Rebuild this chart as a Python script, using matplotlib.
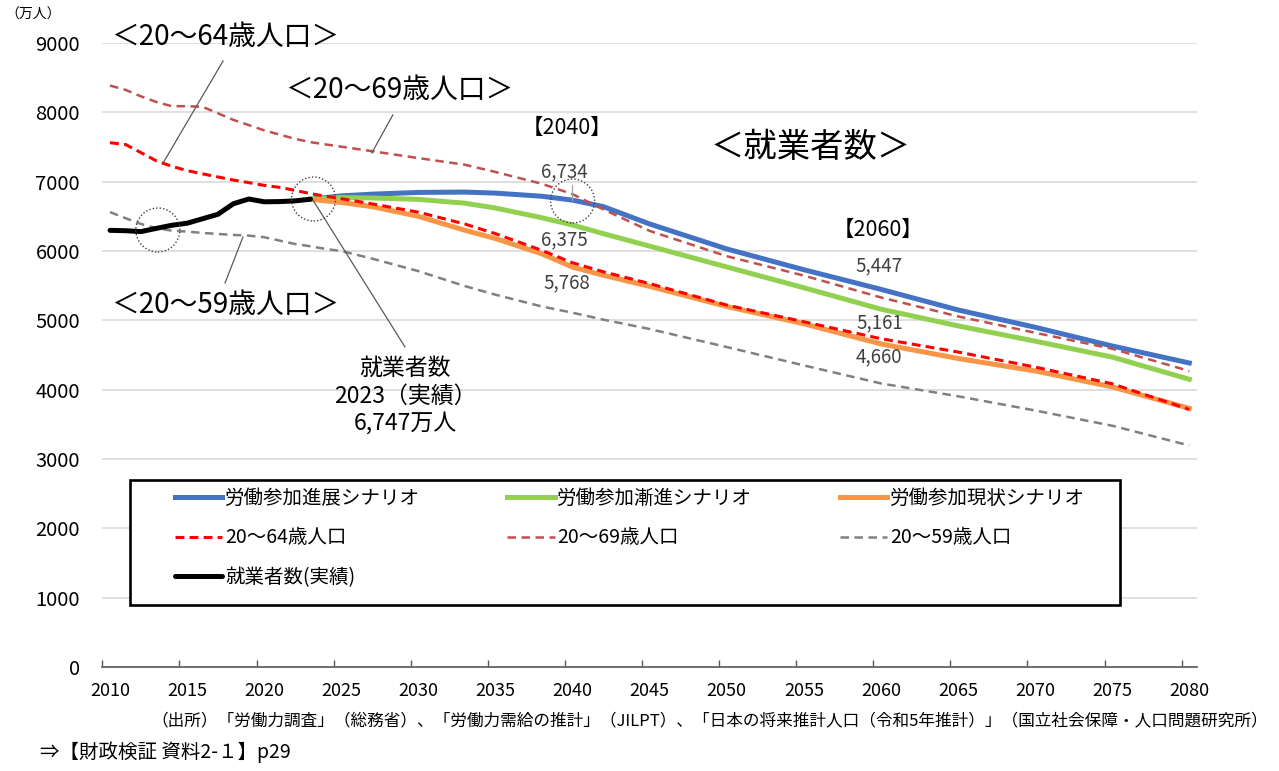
import matplotlib
matplotlib.use("Agg")
import matplotlib.pyplot as plt
from matplotlib.patches import Ellipse, Rectangle
from matplotlib.ticker import FixedLocator
import numpy as np

plt.rcParams['font.family'] = ['Noto Sans CJK JP', 'DejaVu Sans']

# 就業者数（実績）
jisseki_years = list(range(2010, 2024))
jisseki = [6298, 6293, 6280, 6326, 6371, 6401, 6465, 6530, 6682, 6750, 6710, 6713, 6723, 6747]

# 労働力需給の推計（シナリオ別）
scen_years = [2023, 2025, 2027, 2030, 2033, 2035, 2038, 2040, 2042, 2045, 2050, 2055, 2060, 2065, 2070, 2075, 2080]
shinten = [6747, 6795, 6820, 6845, 6850, 6835, 6790, 6734, 6640, 6390, 6030, 5730, 5447, 5150, 4900, 4630, 4385]
zenshin = [6747, 6770, 6765, 6745, 6690, 6620, 6480, 6375, 6250, 6070, 5770, 5470, 5161, 4920, 4700, 4470, 4150]
genjo = [6747, 6700, 6640, 6500, 6300, 6180, 5960, 5768, 5650, 5490, 5200, 4950, 4660, 4450, 4270, 4040, 3730]

# 年齢階級別人口
pop_years = list(range(2010, 2026)) + [2027, 2030, 2033, 2035, 2038, 2040, 2042, 2045, 2050, 2055, 2060, 2065, 2070, 2075, 2080]
pop_20_64 = [7562, 7537, 7420, 7301, 7222, 7160, 7113, 7068, 7024, 6986, 6947, 6918, 6875, 6827, 6790, 6755,
             6680, 6560, 6390, 6250, 6010, 5830, 5700, 5530, 5220, 4980, 4735, 4543, 4326, 4085, 3715]
pop_20_69 = [8386, 8325, 8231, 8150, 8089, 8089, 8080, 7986, 7891, 7816, 7740, 7679, 7618, 7570, 7537, 7505,
             7440, 7340, 7245, 7140, 6970, 6820, 6600, 6290, 5925, 5646, 5330, 5057, 4821, 4590, 4270]
pop_20_59 = [6561, 6474, 6391, 6329, 6294, 6280, 6261, 6246, 6232, 6222, 6199, 6150, 6101, 6068, 6029, 6000,
             5890, 5710, 5495, 5370, 5200, 5110, 5010, 4875, 4615, 4350, 4090, 3905, 3700, 3480, 3195]

# 注目年の値
mark_2040 = {'shinten': 6734, 'zenshin': 6375, 'genjo': 5768}
mark_2060 = {'shinten': 5447, 'zenshin': 5161, 'genjo': 4660}

fig = plt.figure(figsize=(12.79, 7.71), dpi=100)
ax = fig.add_axes([0.080, 0.1349, 0.8559, 0.8093])

h_shin, = ax.plot(scen_years, shinten, color='#4472C4', lw=3.6, label='労働参加進展シナリオ', zorder=2)
h_zen, = ax.plot(scen_years, zenshin, color='#92D050', lw=3.6, label='労働参加漸進シナリオ', zorder=2)
h_gen, = ax.plot(scen_years, genjo, color='#F79646', lw=3.6, label='労働参加現状シナリオ', zorder=2)
h_64, = ax.plot(pop_years, pop_20_64, color='#FF0000', lw=2.2, dashes=(2.9, 1.7), label='20～64歳人口', zorder=3)
h_69, = ax.plot(pop_years, pop_20_69, color='#C0504D', lw=1.8, dashes=(3.4, 2.2), label='20～69歳人口', zorder=3)
h_59, = ax.plot(pop_years, pop_20_59, color='#808080', lw=1.8, dashes=(3.4, 2.2), label='20～59歳人口', zorder=3)
h_jis, = ax.plot(jisseki_years, jisseki, color='black', lw=3.6, label='就業者数(実績)', zorder=4,
                 solid_capstyle='round')

ax.set_xlim(2009.5, 2080.5)
ax.set_ylim(0, 9000)
ax.set_yticks(range(0, 9001, 1000))
ax.set_xticks(range(2010, 2081, 5))
ax.xaxis.set_minor_locator(FixedLocator(np.arange(2009.5, 2080, 5)))
ax.tick_params(axis='x', which='major', length=0, pad=11, labelsize=13)
ax.tick_params(axis='x', which='minor', length=5, width=1, direction='in', color='#595959')
ax.tick_params(axis='y', length=0, pad=16, labelsize=14.5)
for s in ['left', 'right', 'top']:
    ax.spines[s].set_visible(False)
ax.spines['bottom'].set_color('#595959')
ax.spines['bottom'].set_linewidth(1.2)
ax.grid(axis='y', color='#D9D9D9', lw=1.2)
ax.set_axisbelow(True)

# 点線の円
yr_px = 15.42
val_px = 0.06933
for cx, cy in [(2013.1, 6303), (2023.2, 6750), (2040.0, 6721)]:
    ax.add_patch(Ellipse((cx, cy), 44 / yr_px, 44 / val_px, fill=False, ec='#404040',
                         lw=1.0, ls=(0, (1, 1.5)), zorder=5))

# 引き出し線と見出し
lead = dict(color='#595959', lw=0.9, zorder=5)
ax.plot([2017.33, 2013.44], [8741, 7269], **lead)
ax.plot([2028.34, 2026.98], [7962, 7414], **lead)
ax.plot([2017.46, 2018.62], [5539, 6202], **lead)
ax.plot([2023.17, 2029.13], [6731, 4616], **lead)
ax.plot([2039.96, 2039.96], [6952, 6736], color='#A6A6A6', lw=0.9, zorder=5)

ax.text(2010.1, 9087, '＜20～64歳人口＞', fontsize=20, ha='left', va='center')
ax.text(2021.35, 8322, '＜20～69歳人口＞', fontsize=20, ha='left', va='center')
ax.text(2010.1, 5221, '＜20～59歳人口＞', fontsize=20, ha='left', va='center')
ax.text(2055.45, 7486, '＜就業者数＞', fontsize=24, ha='center', va='center')
ax.text(2029.13, 3909, '就業者数\n2023（実績）\n6,747万人', fontsize=16.5, ha='center', va='center',
        linespacing=1.25)

ax.text(2039.64, 7774, '【2040】', fontsize=15.5, ha='center', va='center')
ax.text(2039.5, 7140, f"{mark_2040['shinten']:,}", fontsize=13.5, ha='center', va='center', color='#404040')
ax.text(2039.5, 6159, f"{mark_2040['zenshin']:,}", fontsize=13.5, ha='center', va='center', color='#404040')
ax.text(2039.6, 5539, f"{mark_2040['genjo']:,}", fontsize=13.5, ha='center', va='center', color='#404040')
ax.text(2059.8, 6303, '【2060】', fontsize=15.5, ha='center', va='center')
ax.text(2059.9, 5784, f"{mark_2060['shinten']:,}", fontsize=13.5, ha='center', va='center', color='#404040')
ax.text(2059.9, 4962, f"{mark_2060['zenshin']:,}", fontsize=13.5, ha='center', va='center', color='#404040')
ax.text(2059.85, 4471, f"{mark_2060['genjo']:,}", fontsize=13.5, ha='center', va='center', color='#404040')

# 凡例（枠は別に描く）
ax.add_patch(Rectangle((0.0253, 0.0994), 0.9044, 0.2003, transform=ax.transAxes,
                       fc='white', ec='black', lw=1.9, zorder=6))
leg = ax.legend(handles=[h_shin, h_64, h_jis, h_zen, h_69, h_gen, h_59], ncol=3,
                loc='upper left', bbox_to_anchor=(0.0664, 0.2869), frameon=False,
                fontsize=14, handlelength=2.42, handletextpad=0.15, columnspacing=4.5,
                labelspacing=0.95, borderpad=0, borderaxespad=0)
leg.set_zorder(7)

fig.text(5 / 1279, 1 - 15 / 771, '（万人）', fontsize=10, ha='left', va='center')
fig.text(1268 / 1279, 1 - 722 / 771,
         '（出所）「労働力調査」（総務省）、「労働力需給の推計」（JILPT）、「日本の将来推計人口（令和5年推計）」（国立社会保障・人口問題研究所）',
         fontsize=12, ha='right', va='center')
fig.text(40 / 1279, 1 - 752 / 771, '⇒【財政検証 資料2-１】p29', fontsize=14, ha='left', va='center')

fig.savefig('out.png', dpi=100)
